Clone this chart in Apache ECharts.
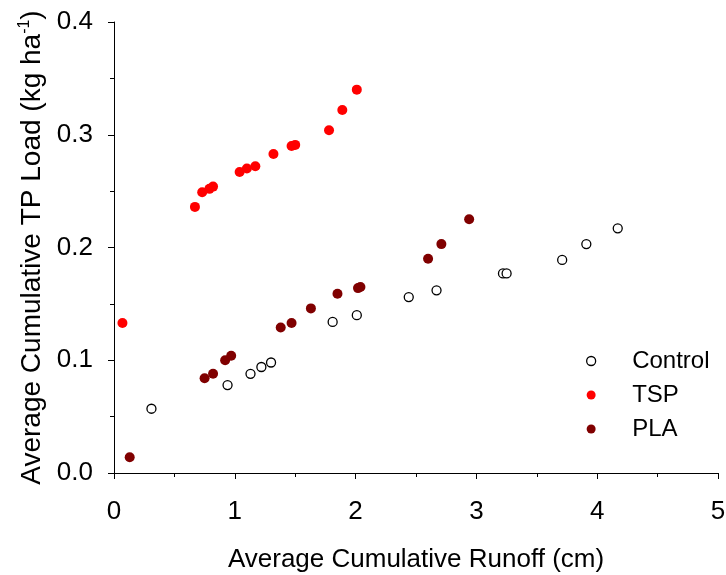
<!DOCTYPE html>
<html>
<head>
<meta charset="utf-8">
<script src="https://cdn.jsdelivr.net/npm/echarts@6/dist/echarts.min.js"></script>
<style>
html,body{margin:0;padding:0;background:#fff;}
#chart{width:726px;height:575px;}
</style>
</head>
<body>
<div id="chart"></div>
<script>
const seriesNames = ['Control', 'TSP', 'PLA'];
const controlX = [0.31, 0.94, 1.13, 1.22, 1.30, 1.81, 2.01, 2.44, 2.67, 3.22, 3.25, 3.71, 3.91, 4.17];
const controlY = [0.057, 0.078, 0.088, 0.094, 0.098, 0.134, 0.140, 0.156, 0.162, 0.177, 0.177, 0.189, 0.203, 0.217];
const tspX = [0.07, 0.67, 0.73, 0.79, 0.82, 1.04, 1.10, 1.17, 1.32, 1.47, 1.50, 1.78, 1.89, 2.01];
const tspY = [0.133, 0.236, 0.249, 0.252, 0.254, 0.267, 0.270, 0.272, 0.283, 0.290, 0.291, 0.304, 0.322, 0.340];
const plaX = [0.13, 0.75, 0.82, 0.92, 0.97, 1.38, 1.47, 1.63, 1.85, 2.02, 2.04, 2.60, 2.71, 2.94];
const plaY = [0.014, 0.084, 0.088, 0.100, 0.104, 0.129, 0.133, 0.146, 0.159, 0.164, 0.165, 0.190, 0.203, 0.225];
const xTicks = [0, 1, 2, 3, 4, 5];
const yTicks = [0.0, 0.1, 0.2, 0.3, 0.4];

const zip = (xs, ys) => xs.map((x, i) => [x, ys[i]]);
const FONT = '"Liberation Sans", Arial, sans-serif';

const chart = echarts.init(document.getElementById('chart'), null, {renderer: 'canvas'});
const axisCommon = {
  axisLine: {show: true, lineStyle: {color: '#000', width: 1}},
  axisTick: {show: true, inside: false, length: 6, lineStyle: {color: '#000', width: 1}},
  minorTick: {show: true, splitNumber: 2, length: 4, lineStyle: {color: '#000', width: 1}},
  splitLine: {show: false},
  minorSplitLine: {show: false}
};
chart.setOption({
  animation: false,
  backgroundColor: '#fff',
  grid: {left: 114, right: 8, top: 22, bottom: 102, containLabel: false, outerBoundsMode: 'none'},
  xAxis: Object.assign({
    type: 'value', min: xTicks[0], max: xTicks[xTicks.length - 1], interval: 1,
    name: 'Average Cumulative Runoff (cm)', nameLocation: 'middle', nameGap: 74,
    nameTextStyle: {fontFamily: FONT, fontSize: 26, color: '#000'},
    axisLabel: {fontFamily: FONT, fontSize: 26, color: '#000', margin: 26,
      formatter: v => xTicks.includes(v) ? String(v) : ''}
  }, axisCommon),
  yAxis: Object.assign({
    type: 'value', min: yTicks[0], max: yTicks[yTicks.length - 1], interval: 0.1,
    name: '{t|Average Cumulative TP Load (kg ha}{s|-1}{t|)}', nameLocation: 'middle', nameGap: 67,
    nameTextStyle: {fontFamily: FONT, fontSize: 28, color: '#000',
      rich: {t: {fontFamily: FONT, fontSize: 28, lineHeight: 30, color: '#000'},
             s: {fontFamily: FONT, fontSize: 16, lineHeight: 16, verticalAlign: 'top', color: '#000'}}},
    axisLabel: {fontFamily: FONT, fontSize: 26, color: '#000', margin: 21,
      formatter: v => v.toFixed(1)}
  }, axisCommon),
  legend: {
    orient: 'vertical', left: 581, top: 344, itemWidth: 72, itemHeight: 9, itemGap: 10,
    textStyle: {fontFamily: FONT, fontSize: 24, lineHeight: 24, color: '#000', padding: [0, 0, 0, 0]},
    data: [
      {name: seriesNames[0], icon: 'circle', itemStyle: {color: '#fff', borderColor: '#000', borderWidth: 1.3}},
      {name: seriesNames[1], icon: 'circle', itemStyle: {color: '#ff0000', borderWidth: 0}},
      {name: seriesNames[2], icon: 'circle', itemStyle: {color: '#800000', borderWidth: 0}}
    ]
  },
  series: [
    {name: seriesNames[0], type: 'scatter', symbol: 'circle', symbolSize: 9,
     itemStyle: {color: '#fff', borderColor: '#000', borderWidth: 1.3, opacity: 1},
     data: zip(controlX, controlY)},
    {name: seriesNames[1], type: 'scatter', symbol: 'circle', symbolSize: 10,
     itemStyle: {color: '#ff0000', opacity: 1},
     data: zip(tspX, tspY)},
    {name: seriesNames[2], type: 'scatter', symbol: 'circle', symbolSize: 10,
     itemStyle: {color: '#800000', opacity: 1},
     data: zip(plaX, plaY)}
  ]
});
</script>
</body>
</html>
